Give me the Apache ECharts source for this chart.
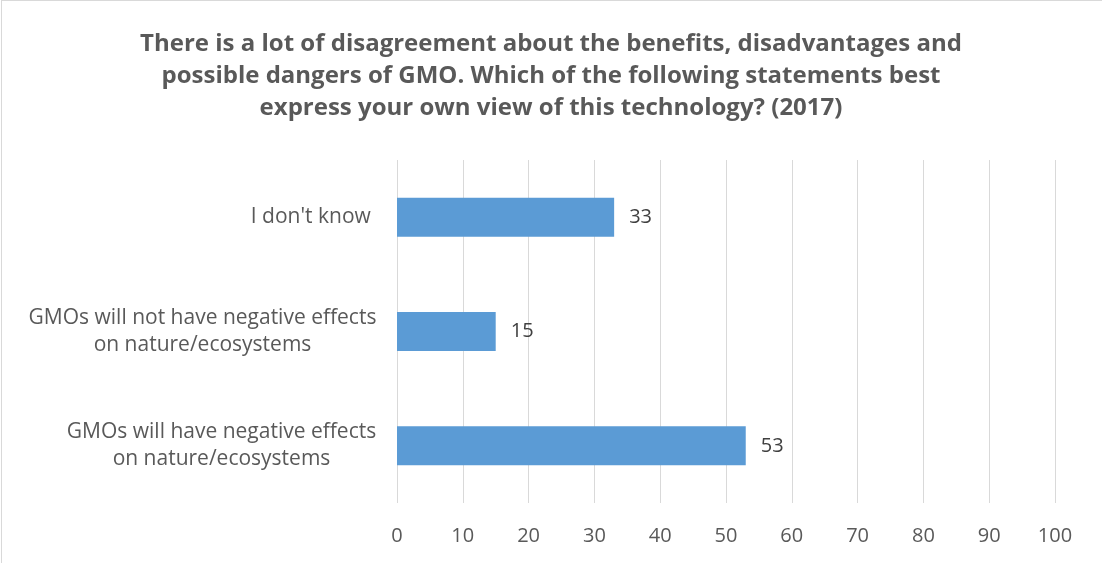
<!DOCTYPE html>
<html>
<head>
<meta charset="utf-8">
<script src="https://cdn.jsdelivr.net/npm/echarts@6/dist/echarts.min.js"></script>
<style>
  html, body { margin: 0; padding: 0; background: #fff; }
  #frame { position: absolute; left: 1px; top: 0; width: 1110px; height: 570px;
           border: 1px solid #D9D9D9; box-sizing: border-box; }
  #chart { position: absolute; left: 0; top: 0; width: 1102px; height: 563px; }
</style>
</head>
<body>
<div id="frame"></div>
<div id="chart"></div>
<script>
// Survey answers, listed bottom to top as drawn on the category axis
const categories = [
  'GMOs will have negative effects\non nature/ecosystems',
  'GMOs will not have negative effects\non nature/ecosystems',
  "I don't know "
];
const shares = [53, 15, 33];
const axisTicks = [0, 10, 20, 30, 40, 50, 60, 70, 80, 90, 100];

const titleText = 'There is a lot of disagreement about the benefits, disadvantages and\n' +
  'possible dangers of GMO. Which of the following statements best\n' +
  'express your own view of this technology? (2017)';

const FONT = '"Open Sans", "Noto Sans", sans-serif';
const LABEL_SIZE = 20;
const CAT_SIZE = 21;

// Measure each category's widest line so its lines can be centred inside a block
const ctx = document.createElement('canvas').getContext('2d');
ctx.font = CAT_SIZE + 'px "Open Sans"';
const rich = {};
categories.forEach((c, i) => {
  const w = Math.max(...c.split('\n').map(s => ctx.measureText(s).width));
  rich['c' + i] = { width: Math.ceil(w) + 1, align: 'center', fontSize: CAT_SIZE,
                    fontFamily: FONT, color: '#595959', lineHeight: 27 };
});

const chart = echarts.init(document.getElementById('chart'));
chart.setOption({
  animation: false,
  title: {
    text: titleText,
    left: 'center',
    top: 23,
    textStyle: { fontFamily: FONT, fontWeight: 'bold', fontSize: 24,
                 color: '#595959', lineHeight: 32 }
  },
  grid: { left: 397, right: 47, top: 160, bottom: 60 },
  xAxis: {
    type: 'value', min: 0, max: 100, interval: 10,
    axisLine: { show: false }, axisTick: { show: false },
    splitLine: { lineStyle: { color: '#D9D9D9', width: 1 } },
    axisLabel: { color: '#595959', fontSize: LABEL_SIZE, fontFamily: FONT, margin: 23,
                 formatter: v => axisTicks.includes(v) ? String(v) : '' }
  },
  yAxis: {
    type: 'category', data: categories,
    axisLine: { show: false }, axisTick: { show: false },
    axisLabel: {
      margin: 20, align: 'right',
      formatter: (v, i) => v.split('\n').map(s => '{c' + i + '|' + s + '}').join('\n'),
      rich: rich
    }
  },
  series: [{
    type: 'bar', data: shares, barWidth: 39,
    itemStyle: { color: '#5B9BD5' },
    label: { show: true, position: 'right', distance: 15, color: '#404040',
             fontSize: LABEL_SIZE, fontFamily: FONT }
  }]
});
</script>
</body>
</html>
